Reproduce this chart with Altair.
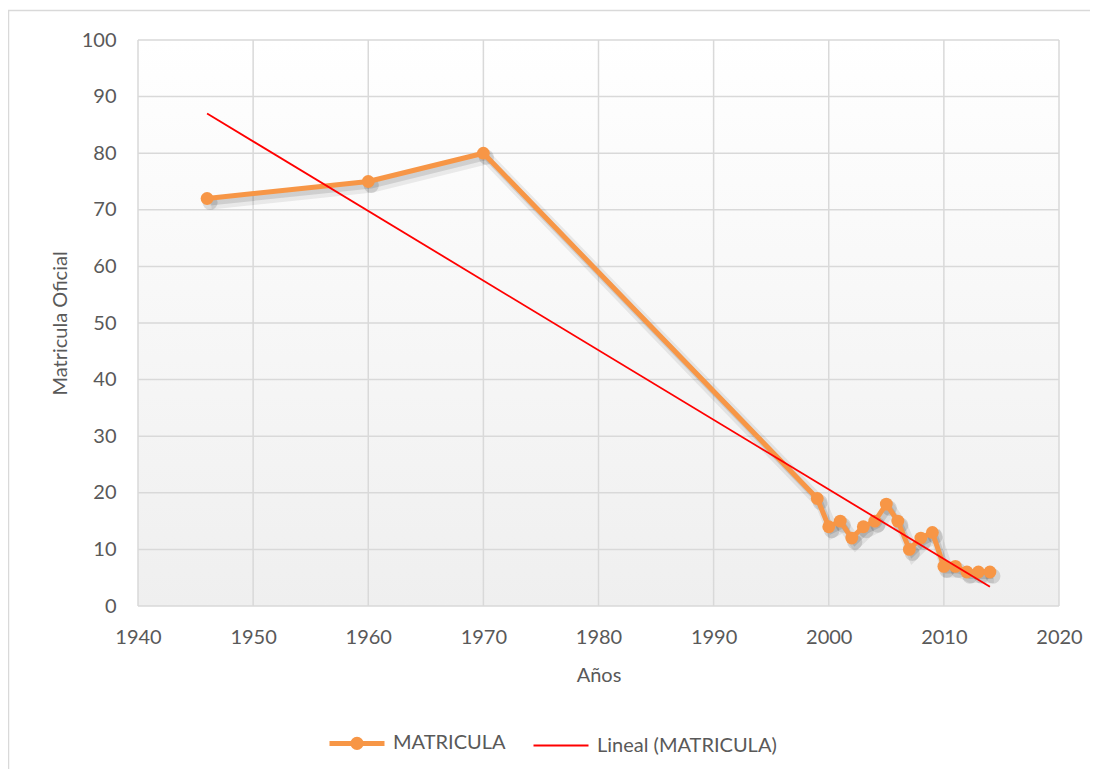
import altair as alt
import pandas as pd

# ---- data ----
years = [1946, 1960, 1970, 1999, 2000, 2001, 2002, 2003, 2004, 2005, 2006,
         2007, 2008, 2009, 2010, 2011, 2012, 2013, 2014]
matricula = [72, 75, 80, 19, 14, 15, 12, 14, 15, 18, 15,
             10, 12, 13, 7, 7, 6, 6, 6]
x_ticks = [1940, 1950, 1960, 1970, 1980, 1990, 2000, 2010, 2020]
y_ticks = [0, 10, 20, 30, 40, 50, 60, 70, 80, 90, 100]
series_names = ["MATRICULA", "Lineal (MATRICULA)"]
series_colors = ["#F79646", "#FF0000"]

FONT = "Lato"
TXT = "#595959"
GRID = "#d9d9d9"
W, H = 921, 566

df = pd.DataFrame({"year": years, "value": matricula, "serie": series_names[0]})
xt = pd.DataFrame({"year": x_ticks})
yt = pd.DataFrame({"value": y_ticks})

xs = alt.Scale(domain=[1940, 2020], nice=False, zero=False)
ys = alt.Scale(domain=[0, 100], nice=False)
cs = alt.Scale(domain=series_names, range=series_colors)

axis_style = dict(labelFont=FONT, labelFontSize=20, labelColor=TXT,
                  titleFont=FONT, titleFontSize=20, titleColor=TXT,
                  titleFontWeight="normal", labelFlush=False,
                  grid=False, domain=False, ticks=False)
x_axis = alt.Axis(values=x_ticks, format="d", title="Años",
                  labelPadding=21, titlePadding=18, **axis_style)
y_axis = alt.Axis(values=y_ticks, title="Matricula Oficial",
                  labelPadding=22, titlePadding=11, **axis_style)
X = alt.X("year:Q", scale=xs, axis=x_axis)
Y = alt.Y("value:Q", scale=ys, axis=y_axis)

# decorative chart frame
frame = alt.Chart(alt.Data(values=[{"a": 1}])).mark_rect(
    fill="transparent", stroke=GRID, strokeWidth=1.5
).encode(x=alt.value(-129.5), x2=alt.value(1100), y=alt.value(-29.5), y2=alt.value(800))

# plot area gradient background
bg = alt.Chart(alt.Data(values=[{"a": 1}])).mark_rect(
    color=alt.Gradient(gradient="linear",
                       stops=[alt.GradientStop(color="#ffffff", offset=0),
                              alt.GradientStop(color="#efefef", offset=1)],
                       x1=0, x2=0, y1=0, y2=1)
).encode(x=alt.value(0), x2=alt.value(W), y=alt.value(0), y2=alt.value(H))

gx = alt.Chart(xt).mark_rule(color=GRID, strokeWidth=1.5).encode(x=X)
gy = alt.Chart(yt).mark_rule(color=GRID, strokeWidth=1.5).encode(y=Y)

base = alt.Chart(df)

shadow1 = base.mark_line(color="#000000", opacity=0.07, strokeWidth=12,
                         xOffset=4, yOffset=5).encode(x=X, y=Y)
shadow2 = base.mark_line(color="#000000", opacity=0.11, strokeWidth=6,
                         xOffset=3, yOffset=4).encode(x=X, y=Y)
shadow_pts = base.mark_circle(color="#000000", opacity=0.12, size=230,
                              xOffset=3, yOffset=4).encode(x=X, y=Y)

IS_M = "datum.value === 'MATRICULA'"
line = base.mark_line(strokeWidth=5, strokeCap="round", strokeJoin="round").encode(
    x=X, y=Y,
    color=alt.Color("serie:N", scale=cs,
                    legend=alt.Legend(
                        title=None, orient="none", direction="horizontal",
                        legendX=209, legendY=693,
                        symbolSize=3025, labelFontSize=20, labelFont=FONT,
                        labelColor=TXT, labelOffset=26, columnPadding=23,
                        labelLimit=400,
                        symbolType=alt.ExprRef(
                            IS_M + " ? 'M-1,0H1M-0.15,0A0.15,0.15,0,1,0,0.15,0A0.15,0.15,0,1,0,-0.15,0Z' : 'M-1,0H1'"),
                        symbolStrokeWidth=alt.ExprRef(IS_M + " ? 5 : 2"),
                        symbolFillColor=alt.ExprRef(IS_M + " ? '#F79646' : 'transparent'"),
                    )))
pts = base.mark_circle(color=series_colors[0], size=165, opacity=1).encode(x=X, y=Y)

trend = base.transform_regression("year", "value").transform_calculate(
    serie="'Lineal (MATRICULA)'"
).mark_line(strokeWidth=1.8).encode(
    x=X, y=Y, color=alt.Color("serie:N", scale=cs))

chart = alt.layer(frame, bg, gx, gy, shadow1, shadow2, shadow_pts, line, pts, trend).properties(
    width=W, height=H,
    padding={"left": 130, "top": 32, "right": 31, "bottom": 163},
    autosize=alt.AutoSizeParams(type="none"),
    background="#ffffff",
).configure_view(stroke=None)

chart.save("out.html", embed_options={"renderer": "svg", "actions": False})
